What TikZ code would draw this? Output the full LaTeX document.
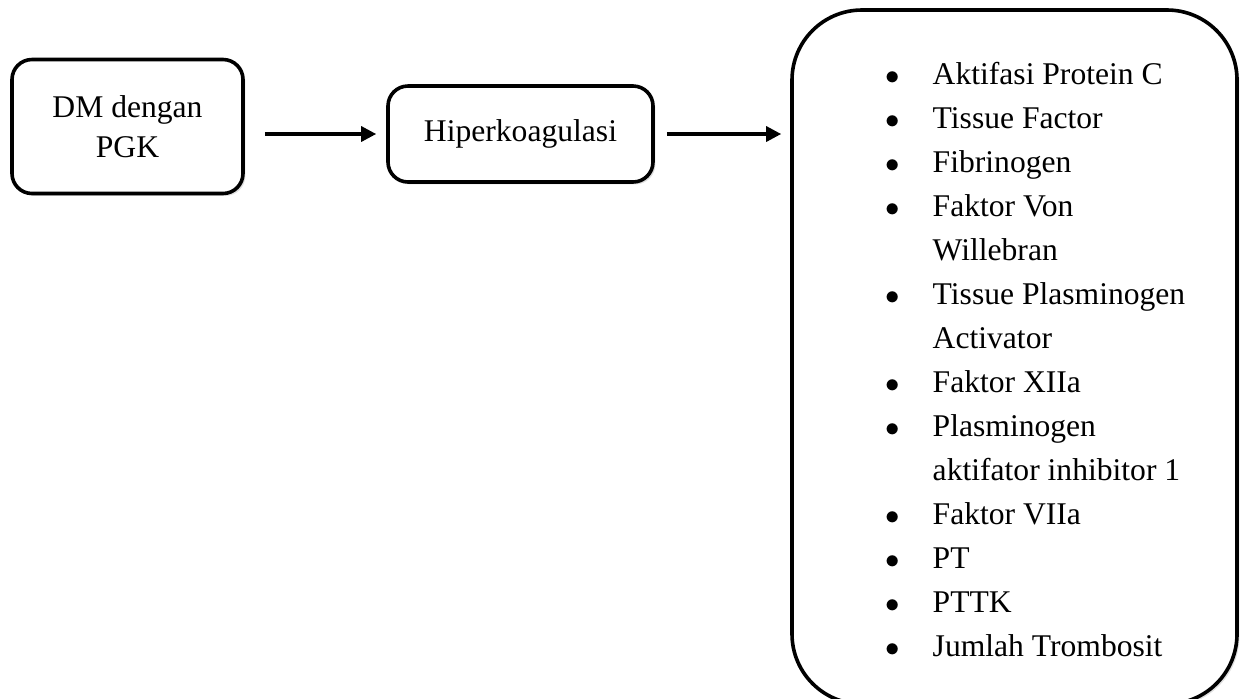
\documentclass[tikz,border=0pt]{standalone}
\usepackage{fontspec}
\setmainfont{Liberation Serif}
\usetikzlibrary{arrows.meta,shadows}
\tikzset{
  box/.style={draw, line width=1.8pt, rounded corners=10pt, fill=white,
    drop shadow={shadow xshift=1.2pt, shadow yshift=-1.2pt, opacity=0.25}},
  link/.style={line width=1.6pt, -{Triangle[length=7.5pt,width=7.5pt]}}
}
\newcommand{\itembullet}{$\bullet$}
\begin{document}
\begin{tikzpicture}[x=0.5pt,y=-0.5pt,font=\fontsize{15.8}{22}\selectfont]
  \useasboundingbox (0,0) rectangle (1246,698);
  \draw
    (127.5,126.5) node[box, minimum width=115.5pt, minimum height=67pt, align=center] (dm) {DM dengan\\[-2pt]PGK}
    (520.5,134) node[box, minimum width=132.5pt, minimum height=48pt] (hiper) {Hiperkoagulasi}
    (1014.5,357) node[box, rounded corners=35pt, minimum width=222.5pt, minimum height=347pt] (param) {%
      \begin{tabular}{@{\hspace{21pt}}p{23.5pt}@{}l@{}}
        \rule{0pt}{20.4pt}\itembullet & Aktifasi Protein C\\
        \itembullet & Tissue Factor\\
        \itembullet & Fibrinogen\\
        \itembullet & Faktor Von\\
                    & Willebran\\
        \itembullet & Tissue Plasminogen\\
                    & Activator\\
        \itembullet & Faktor XIIa\\
        \itembullet & Plasminogen\\
                    & aktifator inhibitor 1\\
        \itembullet & Faktor VIIa\\
        \itembullet & PT\\
        \itembullet & PTTK\\
        \itembullet & Jumlah Trombosit
      \end{tabular}};
  \begin{scope}[link]
    \draw[shorten <=10pt, shorten >=5pt] (dm.east |- hiper) to (hiper);
    \draw[shorten <=6pt, shorten >=4.5pt] (hiper) to (param.west |- hiper);
  \end{scope}
\end{tikzpicture}
\end{document}
